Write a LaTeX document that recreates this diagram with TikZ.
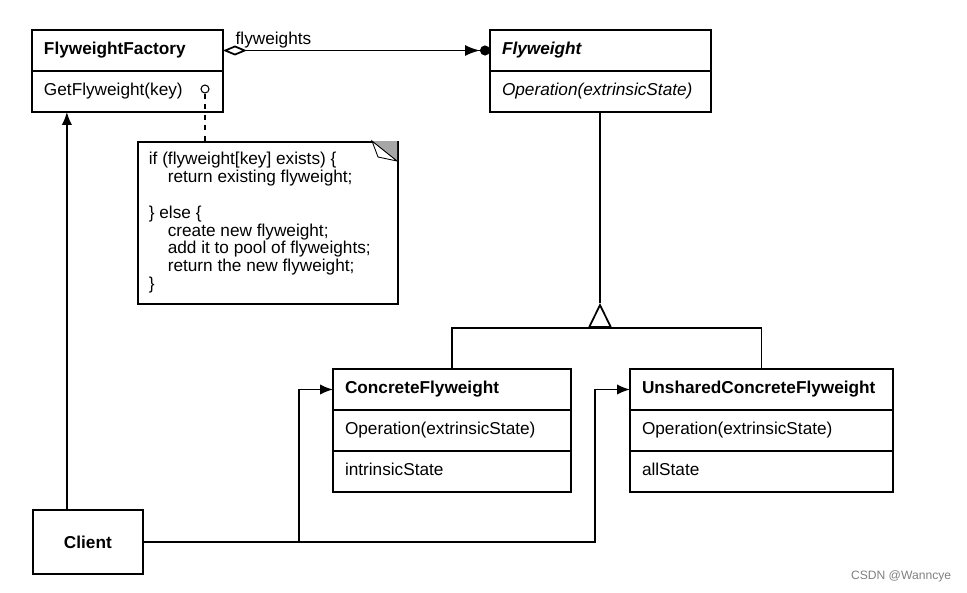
\documentclass[tikz,border=0pt]{standalone}
\usepackage{fontspec}
\setmainfont{Liberation Sans}
\usetikzlibrary{positioning,arrows.meta}

\begin{document}
\begin{tikzpicture}[
		x=0.02cm, y=-0.02cm,
		line width=1pt,
		font=\fontsize{9.8}{11.8}\selectfont,
		classrow/.style={draw, outer sep=0pt, minimum height=0.82cm, inner xsep=0.24cm, inner ysep=0pt,
				text width=#1, align=left, execute at begin node=\strut},
		classname/.style={classrow=#1, font=\fontsize{9.8}{11.8}\selectfont\bfseries},
		uses/.style={-{Latex[length=0.26cm,width=0.21cm]}}
	]
	\useasboundingbox (0,0) rectangle (967,592);

	% classes
	\node[classname=3.34cm, anchor=north west] (factory) at (32,30) {FlyweightFactory};
	\node[classrow=3.34cm, below=0pt of factory] (factoryop) {GetFlyweight(key)};

	\node[classname=3.94cm, anchor=north west] (flyweight) at (490,30) {\textit{Flyweight}};
	\node[classrow=3.94cm, below=0pt of flyweight] (flyweightop) {\textit{Operation(extrinsicState)}};

	\node[classname=4.28cm, anchor=north west] (concrete) at (333,369) {ConcreteFlyweight};
	\node[classrow=4.28cm, below=0pt of concrete] (concreteop) {Operation(extrinsicState)};
	\node[classrow=4.28cm, below=0pt of concreteop] (concreteattr) {intrinsicState};

	\node[classname=4.78cm, anchor=north west] (unshared) at (630,369) {UnsharedConcreteFlyweight};
	\node[classrow=4.78cm, below=0pt of unshared] (unsharedop) {Operation(extrinsicState)};
	\node[classrow=4.78cm, below=0pt of unsharedop] (unsharedattr) {allState};

	\node[draw, anchor=north west, minimum width=2.2cm, minimum height=1.28cm, inner sep=0pt,
		font=\fontsize{9.8}{11.8}\selectfont\bfseries] (client) at (32,509) {Client};

	% note
	\node[draw, anchor=north west, minimum width=5.2cm, minimum height=3.24cm, inner sep=0pt] (note) at (137,141) {};
	\fill[gray!70] (372,141) -- (397,141) -- (397,161) -- cycle;
	\draw[fill=white, line width=0.5pt] (372,141) -- (378,157) -- (397,161) -- cycle;
	\node[anchor=north west, inner sep=0pt, align=left, font=\fontsize{9.8}{10.2}\selectfont] (notetext) at (148,151) {%
		if (flyweight[key] exists) \{\\
		\hspace*{1.1em}return existing flyweight;\\[10.2pt]
		\} else \{\\
		\hspace*{1.1em}create new flyweight;\\
		\hspace*{1.1em}add it to pool of flyweights;\\
		\hspace*{1.1em}return the new flyweight;\\
		\}};
	\node[circle, draw, minimum size=0.16cm, inner sep=0pt, line width=0.6pt] (knob) at (205,89) {};
	\draw[dashed] (knob.south) -- (knob.south |- note.north);

	% aggregation
	\draw[{Diamond[open,length=0.48cm,width=0.2cm]}-{Latex[length=0.3cm,width=0.22cm] Circle[length=0.2cm]}]
		(factory.east) -- (flyweight.west);
	\node[anchor=base west] (flylabel) at ([xshift=0.12cm,yshift=0.12cm]factory.east) {flyweights};

	% inheritance
	\coordinate (split) at (600,328);
	\coordinate (apex) at (600,303);
	\draw[-{Triangle[open,length=0.5cm,width=0.48cm]}] (split) -- (apex);
	\draw (apex) -- (apex |- flyweightop.south);
	\draw (concrete.north) |- (split) -| (unshared.north);

	% client
	\coordinate (clientup) at ([xshift=-0.42cm]client.north);
	\draw[uses] (clientup) -- (clientup |- factoryop.south);
	\draw[uses] (client.east) -| ([xshift=-0.68cm]concrete.west) -- (concrete.west);
	\draw[uses] (client.east) -| ([xshift=-0.7cm]unshared.west) -- (unshared.west);

	\node[anchor=east, inner sep=0pt, text=gray, font=\fontsize{6.9}{8}\selectfont] (mark) at (952,576) {CSDN @Wanncye};
\end{tikzpicture}
\end{document}
